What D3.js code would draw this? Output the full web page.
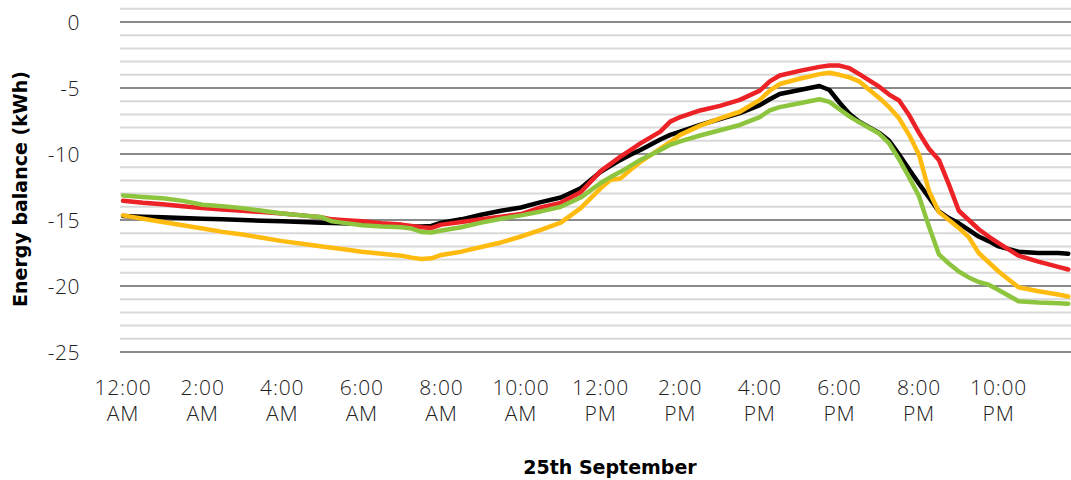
<!DOCTYPE html>
<html>
<head>
<meta charset="utf-8">
<script src="https://cdn.jsdelivr.net/npm/d3@7"></script>
<style>
  body { margin: 0; background: #fff; }
  svg text { font-family: "Open Sans", sans-serif; }
  svg text.titulo { font-family: "DejaVu Sans", sans-serif; }
</style>
</head>
<body>
<div id="graf"></div>
<script>
// Datos (horas del 25 de septiembre, kWh)
const hours = [0, 0.5, 1, 1.5, 2, 2.5, 3, 3.5, 4, 4.5, 5, 5.25, 5.5, 6, 6.5, 7, 7.25, 7.5, 7.75, 8,
  8.5, 9, 9.5, 10, 10.5, 11, 11.5, 12, 12.25, 12.5, 12.75, 13, 13.5, 13.75, 14, 14.5, 15, 15.5, 16, 16.25,
  16.5, 17, 17.5, 17.75, 18, 18.25, 18.5, 19, 19.25, 19.5, 19.75, 20, 20.25, 20.5, 20.75, 21, 21.25, 21.5, 21.75, 22,
  22.5, 23, 23.5, 23.75]

const blackLine = [-14.7, -14.75, -14.8, -14.85, -14.9, -14.95, -15.0, -15.05, -15.1, -15.15, -15.2, -15.22, -15.25, -15.3, -15.35, -15.45, -15.5, -15.5, -15.45, -15.2,
  -14.95, -14.6, -14.3, -14.05, -13.65, -13.3, -12.6, -11.35, -10.9, -10.45, -10.05, -9.7, -8.9, -8.55, -8.3, -7.8, -7.35, -6.9, -6.3, -5.85,
  -5.45, -5.15, -4.85, -5.15, -6.1, -6.95, -7.55, -8.4, -9.0, -10.05, -11.15, -12.25, -13.3, -14.35, -14.85, -15.25, -15.75, -16.25, -16.6, -17.0,
  -17.4, -17.5, -17.5, -17.55]

const redLine = [-13.55, -13.7, -13.8, -13.95, -14.1, -14.2, -14.3, -14.4, -14.5, -14.65, -14.8, -14.95, -15.0, -15.1, -15.25, -15.35, -15.45, -15.55, -15.6, -15.35,
  -15.15, -14.95, -14.75, -14.55, -14.05, -13.7, -12.9, -11.3, -10.75, -10.2, -9.7, -9.2, -8.3, -7.55, -7.2, -6.7, -6.35, -5.9, -5.2, -4.5,
  -4.05, -3.7, -3.4, -3.3, -3.3, -3.5, -3.95, -4.9, -5.5, -5.95, -7.05, -8.4, -9.6, -10.45, -12.3, -14.3, -15.0, -15.7, -16.25, -16.75,
  -17.7, -18.15, -18.55, -18.75]

const yellowLine = [-14.65, -14.9, -15.15, -15.4, -15.65, -15.9, -16.1, -16.35, -16.6, -16.8, -17.0, -17.1, -17.2, -17.4, -17.55, -17.7, -17.85, -17.95, -17.9, -17.65,
  -17.4, -17.05, -16.7, -16.25, -15.75, -15.2, -14.1, -12.6, -11.95, -11.85, -11.2, -10.6, -9.6, -9.1, -8.55, -7.85, -7.3, -6.8, -5.9, -5.2,
  -4.7, -4.3, -3.95, -3.85, -4.0, -4.2, -4.5, -5.75, -6.45, -7.3, -8.55, -10.05, -12.8, -14.4, -15.0, -15.6, -16.3, -17.5, -18.2, -18.9,
  -20.1, -20.4, -20.65, -20.8]

const greenLine = [-13.15, -13.25, -13.35, -13.55, -13.85, -13.95, -14.1, -14.3, -14.5, -14.65, -14.8, -15.1, -15.2, -15.4, -15.5, -15.55, -15.65, -15.9, -15.95, -15.8,
  -15.55, -15.2, -14.9, -14.65, -14.35, -14.0, -13.3, -12.2, -11.75, -11.35, -10.9, -10.45, -9.7, -9.3, -9.05, -8.6, -8.2, -7.8, -7.2, -6.7,
  -6.45, -6.15, -5.85, -6.05, -6.6, -7.15, -7.6, -8.45, -9.2, -10.4, -11.75, -13.2, -15.5, -17.6, -18.3, -18.9, -19.35, -19.7, -19.9, -20.3,
  -21.15, -21.25, -21.3, -21.35]

const tickHours = [0, 2, 4, 6, 8, 10, 12, 14, 16, 18, 20, 22]
const tickLabels = [["12:00", "AM"], ["2:00", "AM"], ["4:00", "AM"], ["6:00", "AM"], ["8:00", "AM"], ["10:00", "AM"],
  ["12:00", "PM"], ["2:00", "PM"], ["4:00", "PM"], ["6:00", "PM"], ["8:00", "PM"], ["10:00", "PM"]]
const yTicks = [0, -5, -10, -15, -20, -25]

const series = [
  { name: "black", color: "#000000", values: blackLine },
  { name: "red", color: "#ec2227", values: redLine },
  { name: "yellow", color: "#ffbb0f", values: yellowLine },
  { name: "green", color: "#8dc53e", values: greenLine }
]

const ancho = 1071
const alto = 480
const plotLeft = 120
const plotRight = 1071

const svg = d3.select("#graf")
  .append("svg")
  .attr("width", ancho)
  .attr("height", alto)

// Escaladores
const x = d3.scaleLinear().domain([0, 24]).range([123, 1078.2])
const y = d3.scaleLinear().domain([-25, 1]).range([352, 8.8])

// Rejilla
svg.append("g")
  .selectAll("line")
  .data(d3.range(-25, 2))
  .join("line")
  .attr("x1", plotLeft)
  .attr("x2", plotRight)
  .attr("y1", (d) => y(d))
  .attr("y2", (d) => y(d))
  .attr("stroke", (d) => (d % 5 === 0 ? "#8a8a8a" : "#d9d9d9"))
  .attr("stroke-width", 2)

// Eje Y
svg.append("g")
  .selectAll("text")
  .data(yTicks)
  .join("text")
  .attr("x", 80)
  .attr("y", (d) => y(d))
  .attr("dy", "0.36em")
  .attr("text-anchor", "end")
  .attr("font-size", 21)
  .attr("font-weight", 300)
  .attr("letter-spacing", 0.5)
  .attr("fill", "#222")
  .text((d) => d)

// Eje X
const xLab = svg.append("g")
  .selectAll("text")
  .data(tickHours)
  .join("text")
  .attr("text-anchor", "middle")
  .attr("font-size", 21)
  .attr("font-weight", 300)
  .attr("letter-spacing", 0.8)
  .attr("fill", "#222")

xLab.append("tspan")
  .attr("x", (d) => x(d))
  .attr("y", 395)
  .text((d, i) => tickLabels[i][0])

xLab.append("tspan")
  .attr("x", (d) => x(d))
  .attr("y", 421)
  .text((d, i) => tickLabels[i][1])

// Lineas
const line = d3.line()
  .x((d) => x(d[0]))
  .y((d) => y(d[1]))

svg.append("g")
  .selectAll("path")
  .data(series)
  .join("path")
  .attr("d", (s) => line(hours.map((h, i) => [h, s.values[i]])))
  .attr("fill", "none")
  .attr("stroke", (s) => s.color)
  .attr("stroke-width", 4.5)
  .attr("stroke-linejoin", "round")
  .attr("stroke-linecap", "round")

// Titulos
svg.append("text")
  .classed("titulo", true)
  .attr("transform", "translate(27, 189) rotate(-90)")
  .attr("text-anchor", "middle")
  .attr("font-size", 19)
  .attr("font-weight", "bold")
  .attr("fill", "#000")
  .text("Energy balance (kWh)")

svg.append("text")
  .classed("titulo", true)
  .attr("x", 610)
  .attr("y", 474)
  .attr("text-anchor", "middle")
  .attr("font-size", 19)
  .attr("font-weight", "bold")
  .attr("fill", "#000")
  .text("25th September")
</script>
</body>
</html>
